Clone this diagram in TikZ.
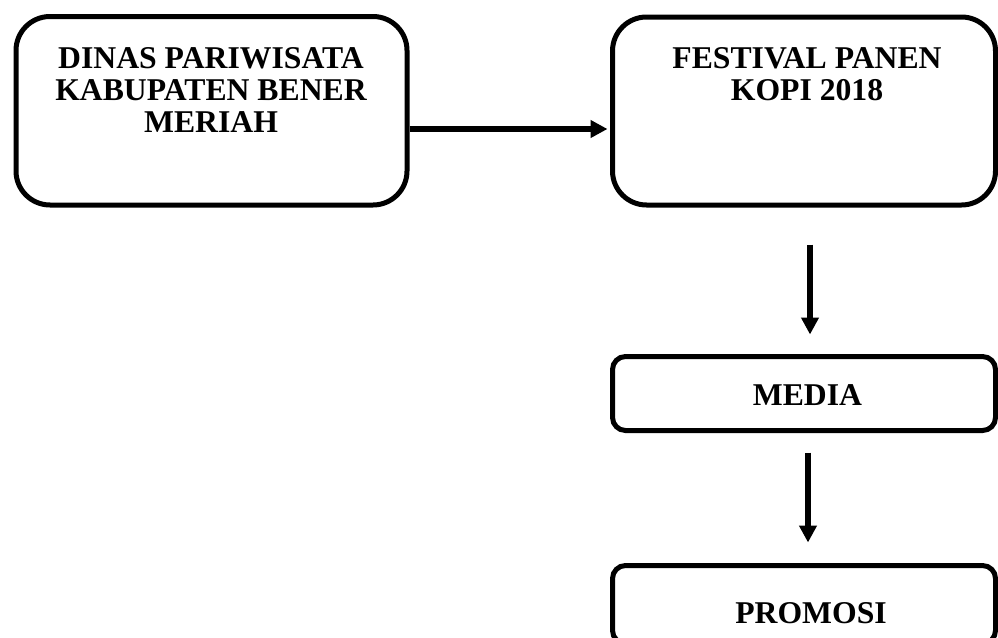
\documentclass[tikz,border=0pt]{standalone}
\usepackage{fontspec}
\setmainfont{Liberation Serif}
\usetikzlibrary{arrows.meta}
\begin{document}
\begin{tikzpicture}[x=1pt,y=-1pt,
  bigbox/.style={draw=black, line width=5pt, rounded corners=34pt, inner sep=0pt},
  smallbox/.style={draw=black, line width=5pt, rounded corners=13pt, inner sep=0pt},
  lbl/.style={font=\fontsize{31.7}{32}\selectfont\bfseries, align=center, inner sep=0pt, anchor=base},
  arr/.style={line width=6pt, -{Triangle[length=17pt,width=17pt]}}]
\useasboundingbox (0,0) rectangle (998,637);
% boxes
\node[bigbox, minimum width=391pt, minimum height=188.5pt] (b1) at (211.5,110.75) {};
\node[bigbox, minimum width=383pt, minimum height=188pt] (b2) at (804,111) {};
\node[smallbox, minimum width=383pt, minimum height=74pt] (b3) at (804,393.5) {};
\node[smallbox, minimum width=383pt, minimum height=78pt] (b4) at (804,604.5) {};
% texts (base anchor = baseline of the last line)
\node[lbl] (t1) at (211,132) {DINAS PARIWISATA\\KABUPATEN BENER\\MERIAH};
\node[lbl] (t2) at (807,100) {FESTIVAL PANEN\\KOPI 2018};
\node[lbl] (t3) at (807.5,405) {MEDIA};
\node[lbl] (t4) at (811,623) {PROMOSI};
% connectors
\coordinate (h) at (0,129);
\coordinate (v1) at (810,0);
\coordinate (v2) at (808,0);
\draw[arr, shorten >=2.5pt] (b1.east |- h) -- (b2.west |- h);
\draw[arr, shorten <=37pt, shorten >=19.5pt] (b2.south -| v1) -- (b3.north -| v1);
\draw[arr, shorten <=19.5pt, shorten >=20.5pt] (b3.south -| v2) -- (b4.north -| v2);
\end{tikzpicture}
\end{document}
